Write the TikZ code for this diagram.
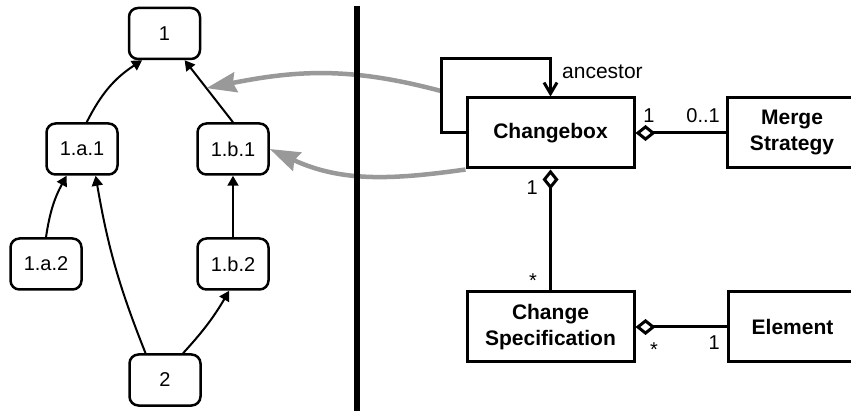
\documentclass[tikz,border=0pt]{standalone}
\usepackage{fontspec}
\setmainfont{Liberation Sans}
\usetikzlibrary{arrows.meta}
\definecolor{linkgray}{gray}{0.6}
\begin{document}
\begin{tikzpicture}[x=1pt,y=-1pt,
  ver/.style={draw,line width=2.5pt,rounded corners=9pt,minimum width=71pt,
    minimum height=51pt,inner sep=0pt,font=\fontsize{20}{24}\selectfont},
  dep/.style={line width=2pt,-{Triangle[length=10pt,width=11pt]}},
  cls/.style={draw,line width=3pt,minimum width=167pt,minimum height=70pt,
    inner sep=0pt,align=center,font=\fontsize{21}{26}\selectfont\bfseries},
  narrow/.style={minimum width=129pt},
  assoc/.style={line width=3pt,{Diamond[open,length=20pt,width=16pt]}-},
  mult/.style={font=\fontsize{20}{24}\selectfont,inner sep=0pt,anchor=base},
  link/.style={draw=linkgray,line width=4.5pt,-{Stealth[length=30pt,width=20pt,inset=3pt]}},
]
\useasboundingbox (0,0) rectangle (851,411);
\clip (0,0) rectangle (851,411);

% version graph
\node[ver] (n1) at (164.5,33.5) {1};
\node[ver] (a1) at (82,149) {1.a.1};
\node[ver] (b1) at (233,149) {1.b.1};
\node[ver] (a2) at (46,264) {1.a.2};
\node[ver] (b2) at (233,264) {1.b.2};
\node[ver] (n2) at (165,380) {2};

\draw[dep] (a1.80) to[bend left=15] (n1.230);
\draw[dep] (b1.north) -- coordinate[pos=0.55] (mid) (n1.-53);
\draw[dep] (a2.north) to[bend left=10] (a1.-120);
\draw[dep] (n2.126) to[bend left=6] (a1.-63);
\draw[dep] (n2.56) to[bend right=6] (b2.-98);
\draw[dep] (b2.north) -- (b1.south);

% class model
\node[cls] (cb) at (550.5,133) {Changebox};
\node[cls,narrow] (ms) at (792,133) {Merge\\Strategy};
\node[cls] (cs) at (550.5,327) {Change\\Specification};
\node[cls,narrow] (el) at (792.5,327) {Element};

\coordinate (lp) at (441,59);
\coordinate (g1) at (441,91);

% links from model to versions
\draw[link] (g1) .. controls (351,67) and (298,70) .. (mid);
\draw[link] (cb.south west) .. controls (391,180) and (341,182) .. (b1.east);

\draw[line width=3pt,-{Straight Barb[length=11pt,width=13pt]}] (cb.west) -| (lp) -| (cb.north);
\node[anchor=base west,inner sep=0pt,font=\fontsize{21}{25}\selectfont] (anc) at (562,79) {ancestor};

\draw[assoc] (cb.east) -- (ms.west);
\draw[assoc] (cb.south) -- (cs.north);
\draw[assoc] (cs.east) -- (el.west);

\node[mult] (m1) at (649,123) {1};
\node[mult,anchor=base east] (m2) at (720,123) {0..1};
\node[mult,anchor=base east] (m3) at (538,195) {1};
\node[mult] (m4) at (533,288) {*};
\node[mult] (m5) at (654,356) {*};
\node[mult,anchor=base east] (m6) at (720,350) {1};

% separator
\draw[line width=6pt] (357,6) -- (357,415);
\end{tikzpicture}
\end{document}
